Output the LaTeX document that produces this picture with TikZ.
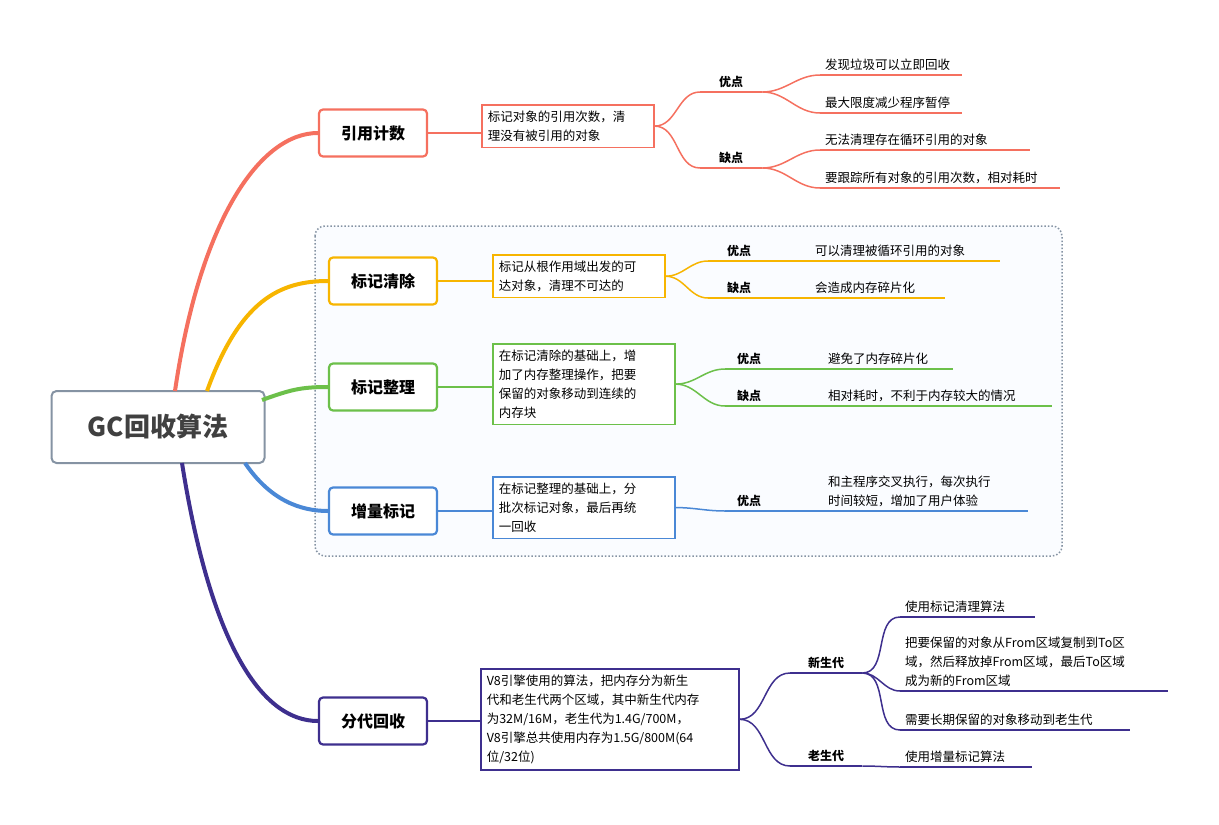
\documentclass[tikz,border=0pt]{standalone}
\usepackage{fontspec}
\setmainfont{Noto Sans CJK SC}
\usetikzlibrary{positioning}
\definecolor{cRed}{HTML}{F5705F}
\definecolor{cOra}{HTML}{F7B500}
\definecolor{cGrn}{HTML}{6CC04A}
\definecolor{cBlu}{HTML}{4A88D6}
\definecolor{cPur}{HTML}{3E2F8E}
\definecolor{cGry}{HTML}{8593A3}
\definecolor{cBg}{HTML}{FAFCFF}
\tikzset{
  topic/.style = {draw, line width=2.2pt, rounded corners=4pt, fill=white, minimum width=108pt, minimum height=47pt, font=\fontsize{16}{18}\selectfont\bfseries},
  desc/.style = {draw, line width=1.6pt, fill=white, align=left, anchor=north west, inner sep=6pt, font=\fontsize{12.5}{19}\selectfont},
  tag/.style = {anchor=south west, inner xsep=0pt, inner ysep=4pt, align=center, font=\fontsize{12}{15}\selectfont\bfseries},
  leaf/.style = {anchor=south west, inner xsep=5pt, inner ysep=4pt, align=left, font=\fontsize{12.5}{19}\selectfont},
  branch/.style = {line width=1.5pt},
}
\begin{document}
\begin{tikzpicture}[x=1pt,y=-1pt]
    \useasboundingbox (0,0) rectangle (1219,825);
    % dotted frame
    \draw[cGry, line width=1.5pt, dotted, rounded corners=10pt, fill=cBg] (315,226) rectangle (1062,556);

    \node[draw=cGry, line width=2pt, rounded corners=5pt, fill=white, minimum width=213pt, minimum height=72pt, font=\fontsize{26}{28}\selectfont\bfseries, text=black!75] (gc) at (158,427) {GC回收算法};

    \node[topic, draw=cRed] (rc) at (373,133) {引用计数};
    \node[topic, draw=cOra] (ms) at (383,281) {标记清除};
    \node[topic, draw=cGrn] (mc) at (383,387) {标记整理};
    \node[topic, draw=cBlu] (inc) at (383,511) {增量标记};
    \node[topic, draw=cPur] (gen) at (373,721) {分代回收};

    % main branches
    \draw[cRed, line width=4pt] (175,391) .. controls (200,220) and (260,133) .. (rc.west);
    \draw[cOra, line width=4pt] (207,391) .. controls (240,300) and (280,281) .. (ms.west);
    \draw[cGrn, line width=4pt] (262,400) .. controls (290,390) and (300,387) .. (mc.west);
    \draw[cBlu, line width=4pt] (245,463) .. controls (270,500) and (300,511) .. (inc.west);
    \draw[cPur, line width=4pt] (182,463) .. controls (210,640) and (260,721) .. (gen.west);

    % descriptions
    \node[desc, draw=cRed, text width=160pt] (rcD) at (481,104) {标记对象的引用次数，清\\理没有被引用的对象};
    \node[desc, draw=cOra, text width=160pt] (msD) at (492,254) {标记从根作用域出发的可\\达对象，清理不可达的};
    \node[desc, draw=cGrn, text width=170pt] (mcD) at (492,343) {在标记清除的基础上，增\\加了内存整理操作，把要\\保留的对象移动到连续的\\内存块};
    \node[desc, draw=cBlu, text width=170pt] (incD) at (492,476) {在标记整理的基础上，分\\批次标记对象，最后再统\\一回收};
    \node[desc, draw=cPur, text width=246pt] (genD) at (480,668) {V8引擎使用的算法，把内存分为新生\\代和老生代两个区域，其中新生代内存\\为32M/16M，老生代为1.4G/700M，\\V8引擎总共使用内存为1.5G/800M(64\\位/32位)};
    \foreach \a/\b/\c in {rc/rcD/cRed, ms/msD/cOra, mc/mcD/cGrn, inc/incD/cBlu, gen/genD/cPur}
        \draw[\c, branch] (\a.east) -- (\a.east -| \b.west);

    % tags
    \node[tag, text width=62pt] (rcP) at (700,92) {优点};
    \node[tag, text width=62pt] (rcC) at (700,168) {缺点};
    \node[tag, text width=62pt] (msP) at (708,261) {优点};
    \node[tag, text width=62pt] (msC) at (708,298) {缺点};
    \node[tag, text width=48pt] (mcP) at (725,369) {优点};
    \node[tag, text width=48pt] (mcC) at (725,406) {缺点};
    \node[tag, text width=48pt] (incP) at (725,511) {优点};
    \node[tag, text width=72pt] (genN) at (790,673) {新生代};
    \node[tag, text width=72pt] (genO) at (790,766) {老生代};

    % leaves
    \node[leaf, text width=132pt] (rcP1) at (820,75) {发现垃圾可以立即回收};
    \node[leaf, text width=132pt] (rcP2) at (820,113) {最大限度减少程序暂停};
    \node[leaf, text width=200pt] (rcC1) at (820,150) {无法清理存在循环引用的对象};
    \node[leaf, text width=230pt] (rcC2) at (820,188) {要跟踪所有对象的引用次数，相对耗时};
    \node[leaf, text width=180pt] (msP1) at (810,261) {可以清理被循环引用的对象};
    \node[leaf, text width=125pt] (msC1) at (810,298) {会造成内存碎片化};
    \node[leaf, text width=120pt] (mcP1) at (823,369) {避免了内存碎片化};
    \node[leaf, text width=219pt] (mcC1) at (823,406) {相对耗时，不利于内存较大的情况};
    \node[leaf, text width=195pt] (incP1) at (823,511) {和主程序交叉执行，每次执行\\时间较短，增加了用户体验};
    \node[leaf, text width=125pt] (genN1) at (900,617) {使用标记清理算法};
    \node[leaf, text width=258pt] (genN2) at (900,691) {把要保留的对象从From区域复制到To区\\域，然后释放掉From区域，最后To区域\\成为新的From区域};
    \node[leaf, text width=220pt] (genN3) at (900,730) {需要长期保留的对象移动到老生代};
    \node[leaf, text width=122pt] (genO1) at (900,767) {使用增量标记算法};

    % underlines
    \foreach \n/\c in {rcP/cRed, rcC/cRed, rcP1/cRed, rcP2/cRed, rcC1/cRed, rcC2/cRed,
                       msP/cOra, msC/cOra, msP1/cOra, msC1/cOra,
                       mcP/cGrn, mcC/cGrn, mcP1/cGrn, mcC1/cGrn,
                       incP/cBlu, incP1/cBlu,
                       genN/cPur, genO/cPur, genN1/cPur, genN2/cPur, genN3/cPur, genO1/cPur}
        \draw[\c, branch] (\n.south west) -- (\n.south east);

    % curved connectors
    \foreach \a/\b/\c in {rcD/rcP/cRed, rcD/rcC/cRed, msD/msP/cOra, msD/msC/cOra,
                          mcD/mcP/cGrn, mcD/mcC/cGrn, incD/incP/cBlu,
                          genD/genN/cPur, genD/genO/cPur}
        \draw[\c, branch] (\a.east) to[out=0, in=180] (\b.south west);
    \foreach \a/\b/\c in {rcP/rcP1/cRed, rcP/rcP2/cRed, rcC/rcC1/cRed, rcC/rcC2/cRed,
                          msP/msP1/cOra, msC/msC1/cOra, mcP/mcP1/cGrn, mcC/mcC1/cGrn,
                          incP/incP1/cBlu,
                          genN/genN1/cPur, genN/genN2/cPur, genN/genN3/cPur, genO/genO1/cPur}
        \draw[\c, branch] (\a.south east) to[out=0, in=180] (\b.south west);
\end{tikzpicture}
\end{document}
